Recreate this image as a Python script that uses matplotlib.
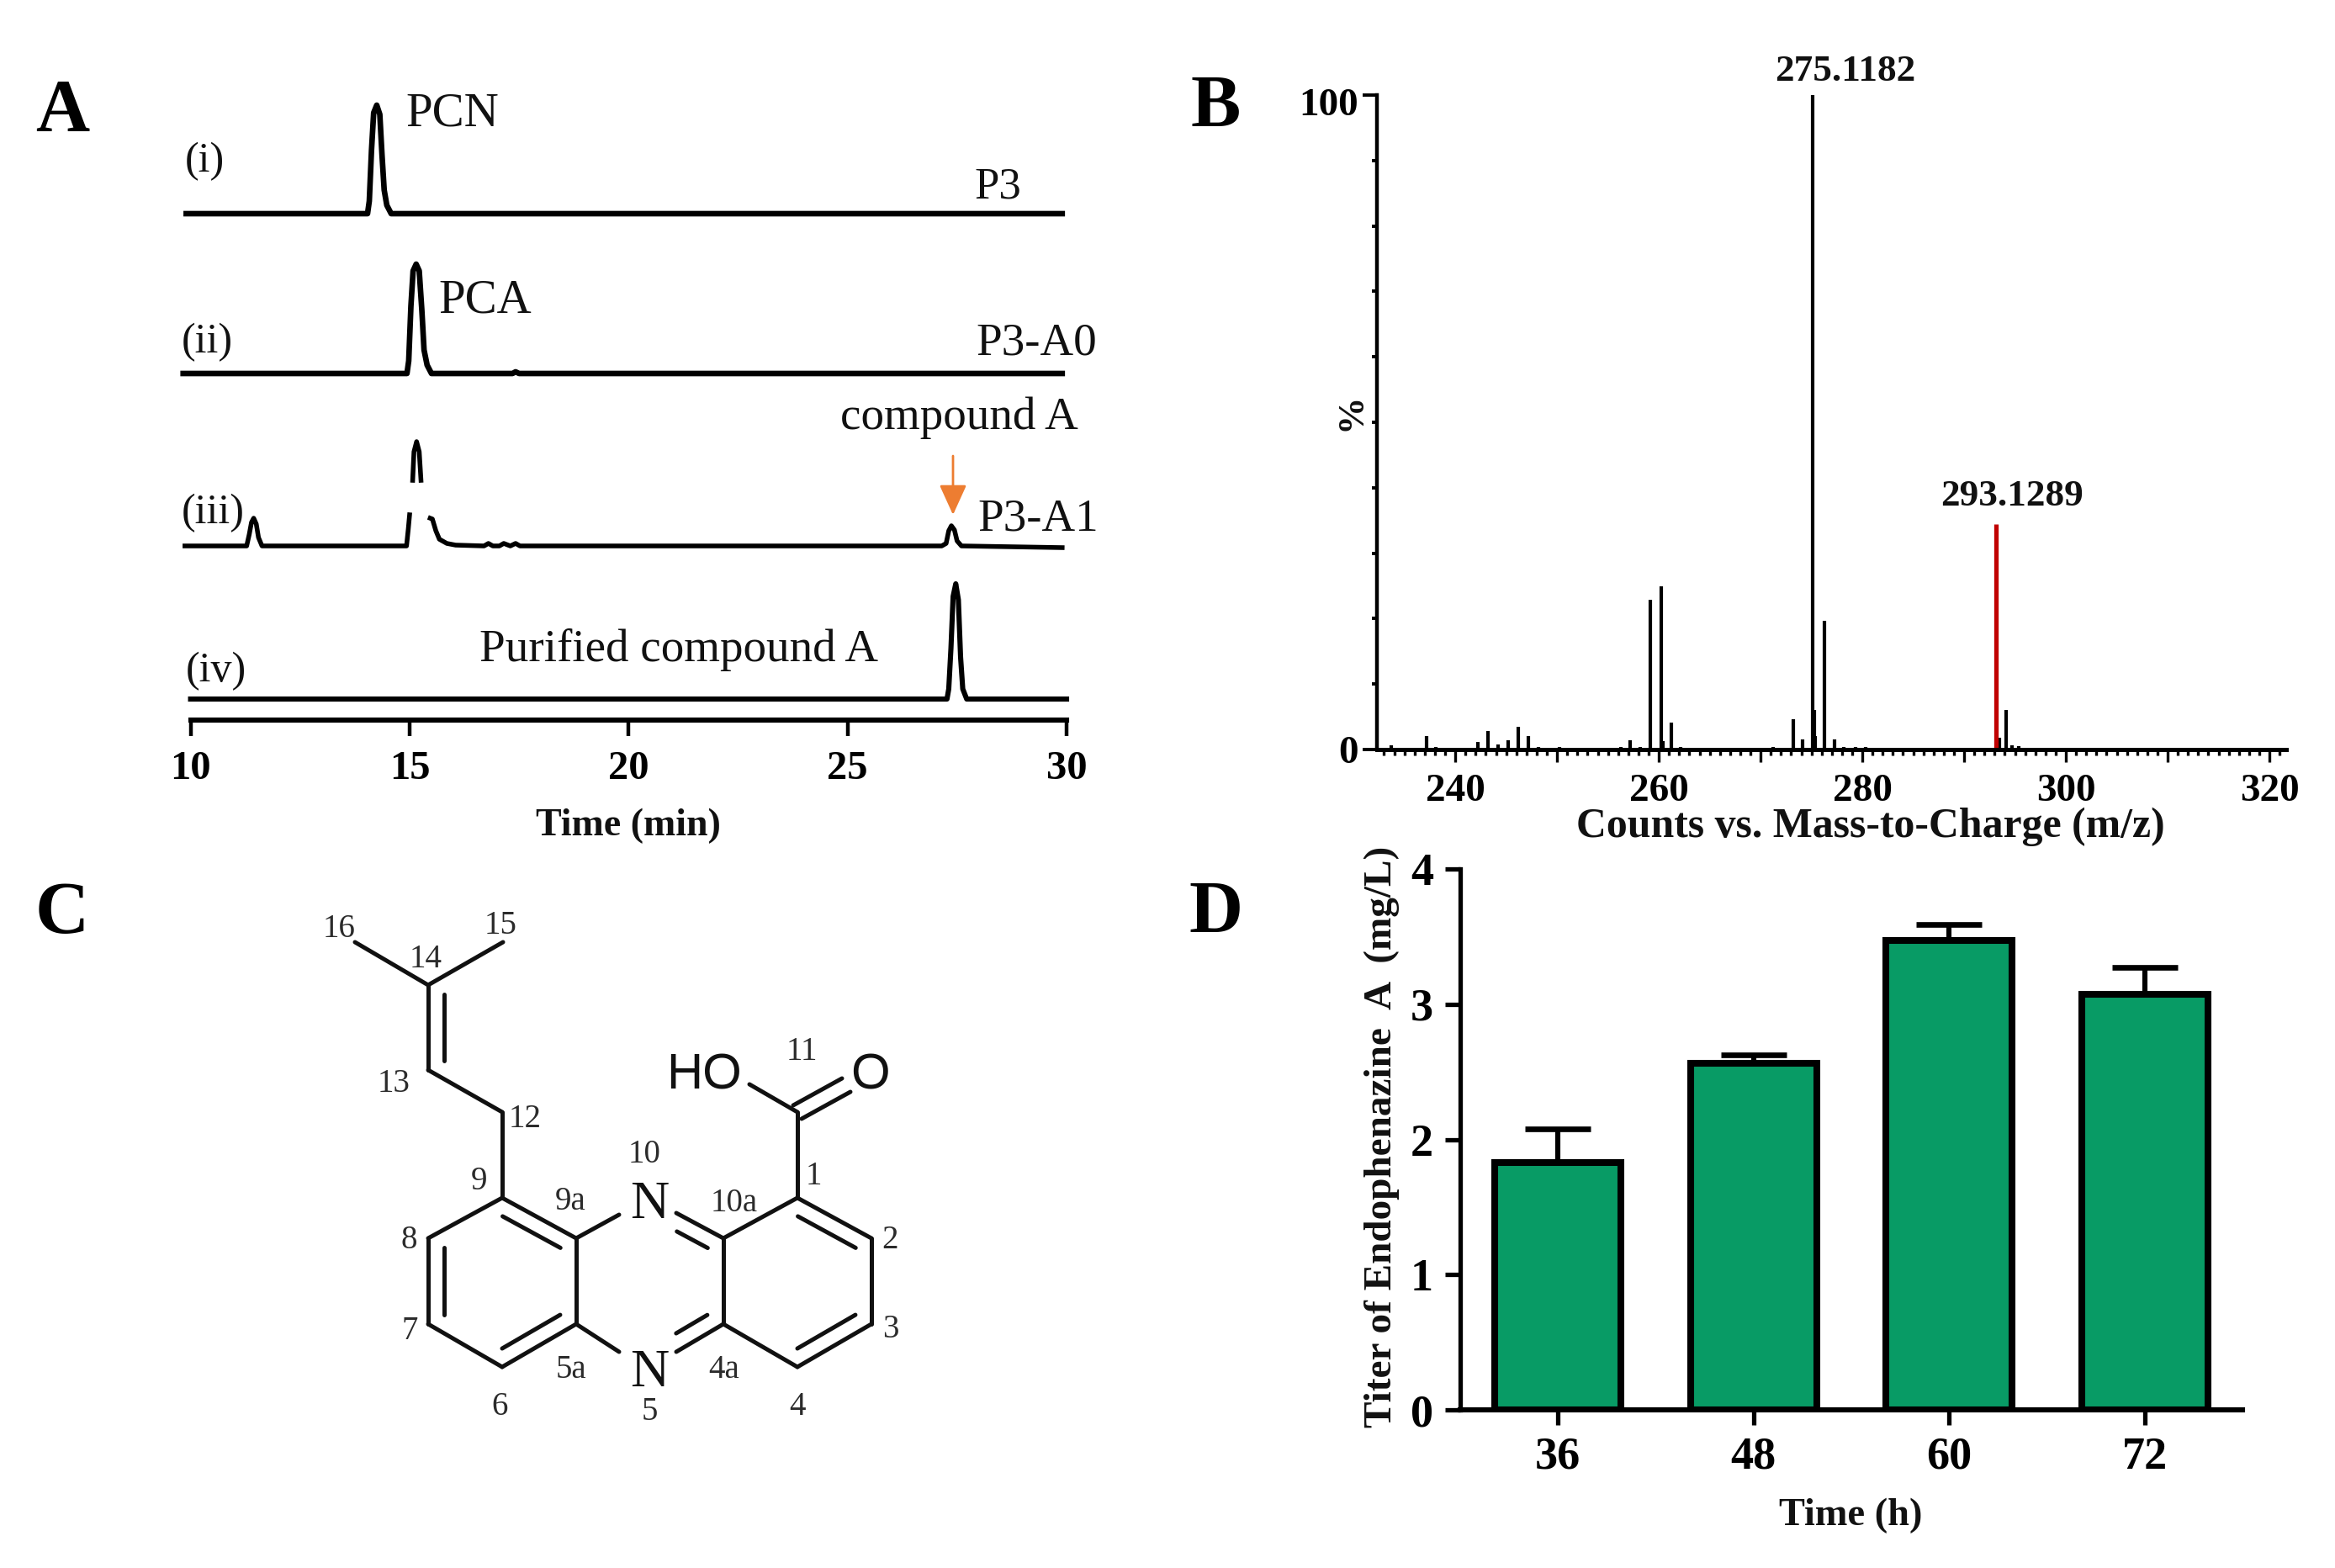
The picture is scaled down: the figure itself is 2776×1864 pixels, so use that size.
import numpy as np
import matplotlib
matplotlib.use("Agg")
import matplotlib.pyplot as plt
from matplotlib.transforms import ScaledTranslation

plt.rcParams["font.family"] = ["Liberation Serif", "DejaVu Serif"]

W, H = 2776, 1864
DPI = 200
INK = "#111111"

# -------------------------
# Panel A data
# -------------------------
a_ticks = [10, 15, 20, 25, 30]
a_offsets = [602, 412, 207, 25]

t_i = [9.9, 14.04, 14.08, 14.13, 14.18, 14.25, 14.32, 14.37, 14.42, 14.48, 14.58, 29.9]
h_i = [0, 0, 15, 75, 120, 129, 118, 70, 28, 10, 0, 0]

t_ii = [9.83, 14.94, 14.98, 15.03, 15.08, 15.15, 15.22, 15.28, 15.33, 15.4, 15.5, 17.35, 17.42, 17.5, 29.9]
h_ii = [0, 0, 15, 80, 122, 130, 122, 75, 28, 10, 0, 0, 2, 0, 0]

t_iii = [9.87, 11.28, 11.34, 11.39, 11.44, 11.5, 11.55, 11.63, 14.93, 14.97, 15.0, np.nan,
         15.07, 15.1, 15.16, 15.22, 15.26, np.nan,
         15.47, 15.52, 15.6, 15.68, 15.85, 16.05, 16.7, 16.8, 16.9, 17.05, 17.15, 17.3, 17.42, 17.52,
         27.15, 27.25, 27.31, 27.37, 27.44, 27.5, 27.6, 29.9]
h_iii = [0, 0, 14, 28, 33, 26, 10, 0, 0, 20, 37, np.nan,
         78, 112, 124, 112, 78, np.nan,
         33, 32, 18, 8, 3, 1, 0, 3, 0, 0, 3, 0, 3, 0,
         0, 3, 18, 24, 19, 6, 0, -2]

t_iv = [10, 27.27, 27.31, 27.36, 27.41, 27.47, 27.53, 27.58, 27.63, 27.72, 30]
h_iv = [0, 0, 12, 60, 122, 137, 118, 50, 12, 0, 0]

a_lw = [2.4, 2.4, 2.0, 2.2]

# -------------------------
# Panel B data
# -------------------------
mz_black = [233.7, 237.15, 238.1, 242.2, 243.2, 244.2, 245.2, 246.2, 247.2, 248.2, 250.2,
            256.3, 257.2, 258.2, 259.2, 260.2, 260.4, 261.2, 262.15, 271.2, 273.2, 274.1,
            275.12, 275.3, 275.4, 276.3, 277.3, 278.2, 279.3, 280.3,
            293.5, 294.1, 294.7, 295.4]
pct_black = [0.65, 2.1, 0.35, 1.1, 2.8, 0.8, 1.4, 3.5, 2.1, 0.35, 0.35,
             0.35, 1.4, 0.35, 22.9, 25.0, 1.3, 4.1, 0.35, 0.35, 4.6, 1.6,
             100, 6.0, 2.1, 19.7, 1.6, 0.35, 0.35, 0.35,
             1.8, 6.0, 0.6, 0.5]
mz_red = [293.13]
pct_red = [34.4]
b_xlabels = ["240", "", "260", "", "280", "", "300", "", "320"]

# -------------------------
# Panel D data
# -------------------------
hours = ["36", "48", "60", "72"]
titer = [1.83, 2.56, 3.47, 3.07]
titer_err = [0.25, 0.065, 0.12, 0.20]

# -------------------------
# Panel C structure (pixel layout of the drawn molecule)
# -------------------------
atoms = {
    "c16": (422, 1120), "c15": (598, 1120), "c14": (509, 1171), "c13": (509, 1272),
    "c12": (597, 1322), "c9": (597, 1424), "c8": (509, 1472), "c7": (509, 1574),
    "c6": (597, 1625), "c5a": (685, 1574), "c9a": (685, 1472), "n10": (736, 1444),
    "n10b": (804, 1442), "c10a": (860, 1472), "c4a": (860, 1574), "n5": (736, 1607),
    "n5b": (804, 1607), "c1": (948, 1424), "c2": (1036, 1472), "c3": (1036, 1574),
    "c4": (948, 1625), "c11": (948, 1322), "oh": (891, 1289), "o": (1006, 1290),
}
single_bonds = [("c16", "c14"), ("c15", "c14"), ("c13", "c12"), ("c12", "c9"),
                ("c9", "c8"), ("c7", "c6"), ("c5a", "c9a"), ("c9a", "n10"), ("c10a", "c4a"),
                ("c5a", "n5"), ("c10a", "c1"), ("c2", "c3"), ("c4a", "c4"), ("c1", "c11"),
                ("c11", "oh")]
double_bonds = [("c14", "c13", -1), ("c9", "c9a", 1), ("c8", "c7", -1), ("c6", "c5a", -1),
                ("n10b", "c10a", 1), ("n5b", "c4a", -1), ("c1", "c2", 1), ("c3", "c4", 1)]
atom_numbers = [("16", 403, 1102), ("15", 595, 1097), ("14", 506, 1138), ("13", 468, 1286),
                ("12", 624, 1328), ("11", 953, 1248), ("10", 766, 1369), ("9", 570, 1402),
                ("9a", 678, 1426), ("10a", 873, 1427), ("1", 967, 1395), ("2", 1058, 1471),
                ("3", 1059, 1578), ("8", 486, 1472), ("7", 487, 1579), ("5a", 679, 1625),
                ("4a", 861, 1625), ("6", 594, 1670), ("5", 772, 1676), ("4", 948, 1670)]


def px_axes(fig, left, right, top, bottom):
    return fig.add_axes([left / W, 1 - bottom / H, (right - left) / W, (bottom - top) / H])


def bold_ticks(ax, size):
    for lab in ax.get_xticklabels() + ax.get_yticklabels():
        lab.set_fontweight("bold")
        lab.set_fontsize(size)


fig = plt.figure(figsize=(W / DPI, H / DPI), dpi=DPI)

overlay = fig.add_axes([0, 0, 1, 1], zorder=5)
overlay.set_xlim(0, W)
overlay.set_ylim(H, 0)
overlay.axis("off")
overlay.patch.set_alpha(0)


def note(x, y, s, size=19, weight="normal", **kw):
    kw.setdefault("color", INK)
    overlay.text(x, y + 3, s, fontsize=size, fontweight=weight, ha="center", va="center", **kw)


# -------------------------
# 1. Panel A
# -------------------------
ax_a = px_axes(fig, 226.6, 1268, 100, 856)
ax_a.set_xlim(10, 30)
ax_a.set_ylim(0, 756)
traces = [(t_i, h_i), (t_ii, h_ii), (t_iii, h_iii), (t_iv, h_iv)]
for (t, h), off, lw in zip(traces, a_offsets, a_lw):
    ax_a.plot(t, np.array(h, dtype=float) + off, color="black", lw=lw, clip_on=False,
              solid_joinstyle="round")
for side in ["top", "left", "right"]:
    ax_a.spines[side].set_visible(False)
ax_a.spines["bottom"].set_linewidth(2.2)
ax_a.set_yticks([])
ax_a.set_xticks(a_ticks)
ax_a.tick_params(axis="x", length=7, width=1.6, pad=6)
bold_ticks(ax_a, 17.5)

note(74, 131, "A", size=32, weight="bold", color="black")
note(243, 189, "(i)", size=18)
note(538, 133, "PCN", size=20.5)
note(1186, 220, "P3", size=19)
note(246, 404, "(ii)", size=18)
note(577, 354, "PCA", size=20.5)
note(1232, 405, "P3-A0", size=19.8)
note(1140, 494, "compound A", size=19.8)
note(253, 607, "(iii)", size=18)
note(1234, 614, "P3-A1", size=19.8)
note(257, 795, "(iv)", size=18)
note(807, 770, "Purified compound A", size=19.8)
note(747, 979, "Time (min)", size=16.5, weight="bold")
overlay.annotate("", xy=(1133, 612), xytext=(1133, 542),
                 arrowprops=dict(arrowstyle="-|>,head_length=0.55,head_width=0.25", color="#ED7D31",
                                 lw=1.0, mutation_scale=20, shrinkA=0, shrinkB=0))

# -------------------------
# 2. Panel B
# -------------------------
ax_b = px_axes(fig, 1637, 2718, 113, 891)
ax_b.set_xlim(232.3, 321.65)
ax_b.set_ylim(0, 100)
ax_b.vlines(mz_black, 0, pct_black, color="black", lw=1.5)
ax_b.vlines(mz_red, 0, pct_red, color="#C00000", lw=1.9)
for side in ["top", "right"]:
    ax_b.spines[side].set_visible(False)
ax_b.spines["left"].set_linewidth(1.6)
ax_b.spines["bottom"].set_linewidth(1.8)
ax_b.set_xticks(np.arange(233, 322), minor=True)
ax_b.set_xticks(np.arange(240, 321, 10))
ax_b.set_xticklabels(b_xlabels)
ax_b.set_yticks([0, 100])
ax_b.set_yticklabels(["0", "100"])
ax_b.set_yticks(np.arange(10, 100, 10), minor=True)
ax_b.tick_params(axis="x", which="major", length=5.5, width=1.2, pad=5)
ax_b.tick_params(axis="x", which="minor", length=2.5, width=1.2)
ax_b.tick_params(axis="y", which="major", length=6, width=1.4, pad=2)
ax_b.tick_params(axis="y", which="minor", length=2, width=1.4)
bold_ticks(ax_b, 17)
top_label = ax_b.get_yticklabels()[1]
top_label.set_transform(top_label.get_transform() + ScaledTranslation(0, -8 / DPI, fig.dpi_scale_trans))

note(1445, 126, "B", size=32, weight="bold", color="black")
note(2194, 82, "275.1182", size=16.3, weight="bold")
note(2392, 587, "293.1289", size=16.3, weight="bold")
note(1607, 487, "%", size=16, weight="bold", rotation=90)
note(2224, 980, "Counts vs. Mass-to-Charge (m/z)", size=17.9, weight="bold")

# -------------------------
# 3. Panel C
# -------------------------
note(74, 1084, "C", size=32, weight="bold", color="black")
for a, b in single_bonds:
    xa, ya = atoms[a]
    xb, yb = atoms[b]
    overlay.plot([xa, xb], [ya, yb], color=INK, lw=1.8, solid_capstyle="round")
for a, b, side in double_bonds:
    pa = np.array(atoms[a], dtype=float)
    pb = np.array(atoms[b], dtype=float)
    d = (pb - pa) / np.hypot(*(pb - pa))
    n = np.array([-d[1], d[0]]) * side
    overlay.plot([pa[0], pb[0]], [pa[1], pb[1]], color=INK, lw=1.8, solid_capstyle="round")
    overlay.plot([pa[0] + n[0] * 19 + d[0] * 11, pb[0] + n[0] * 19 - d[0] * 11],
                 [pa[1] + n[1] * 19 + d[1] * 11, pb[1] + n[1] * 19 - d[1] * 11],
                 color=INK, lw=1.8, solid_capstyle="round")
# carbonyl drawn as two strokes
for dx, dy in [(-5, -8), (5, 8)]:
    overlay.plot([atoms["c11"][0] + dx, atoms["o"][0] + dx], [atoms["c11"][1] + dy, atoms["o"][1] + dy],
                 color=INK, lw=1.8, solid_capstyle="round")
for s, x, y in atom_numbers:
    note(x, y, s, size=14, color="#2b2b2b")
note(772, 1430, "N", size=23)
note(772, 1630, "N", size=23)
note(837, 1276, "HO", size=21.5, family=["Liberation Sans"])
note(1034, 1276, "O", size=21.5, family=["Liberation Sans"])

# -------------------------
# 4. Panel D
# -------------------------
ax_d = px_axes(fig, 1736, 2666, 1033, 1676)
x_pos = np.arange(len(hours))
ax_d.bar(x_pos, titer, width=0.645, color="#089B65", edgecolor="black", linewidth=2.9, zorder=3)
ax_d.errorbar(x_pos, titer, yerr=[np.zeros(len(titer)), titer_err], fmt="none", ecolor="black",
              elinewidth=2.2, capsize=14, capthick=2.4, zorder=2)
ax_d.set_xlim(-0.5, 3.5)
ax_d.set_ylim(0, 4)
for side in ["top", "right"]:
    ax_d.spines[side].set_visible(False)
ax_d.spines["left"].set_linewidth(1.9)
ax_d.spines["bottom"].set_linewidth(2.2)
ax_d.set_xticks(x_pos)
ax_d.set_xticklabels(hours)
ax_d.set_yticks([0, 1, 2, 3, 4])
ax_d.tick_params(axis="both", length=6.5, width=1.9, pad=5)
bold_ticks(ax_d, 19.5)

note(1446, 1084, "D", size=32, weight="bold", color="black")
note(1643, 1348, "Titer of Endophenazine  A  (mg/L)", size=17, weight="bold", rotation=90)
note(2200, 1799, "Time (h)", size=16.7, weight="bold")

fig.savefig("out.png", dpi=DPI, facecolor="white")
plt.close(fig)
